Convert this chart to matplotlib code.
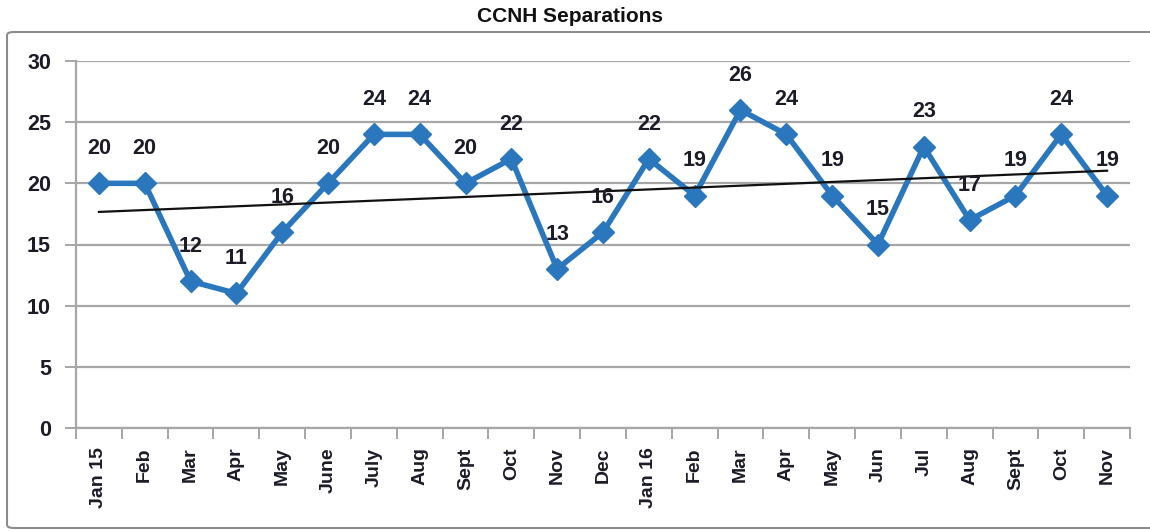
import numpy as np
import matplotlib
matplotlib.use("Agg")
import matplotlib.pyplot as plt
from matplotlib.patches import FancyBboxPatch

months = ["Jan 15", "Feb", "Mar", "Apr", "May", "June", "July", "Aug", "Sept",
          "Oct", "Nov", "Dec", "Jan 16", "Feb", "Mar", "Apr", "May", "Jun",
          "Jul", "Aug", "Sept", "Oct", "Nov"]
separations = [20, 20, 12, 11, 16, 20, 24, 24, 20, 22, 13, 16,
               22, 19, 26, 24, 19, 15, 23, 17, 19, 24, 19]
y_ticks = [0, 5, 10, 15, 20, 25, 30]

plt.rcParams['font.family'] = ['Liberation Sans', 'DejaVu Sans']

x = np.arange(len(separations), dtype=float)
y = np.array(separations, dtype=float)

fig = plt.figure(figsize=(11.5, 5.31), dpi=100)
fig.patch.set_facecolor("white")

# chart frame
frame = FancyBboxPatch((7 / 1150, 3 / 531), 1160 / 1150, 496 / 531,
                       boxstyle="round,pad=0,rounding_size=0.006",
                       transform=fig.transFigure, facecolor="none",
                       edgecolor="#8c8c8c", linewidth=1.5, clip_on=False)
fig.patches.append(frame)

ax = fig.add_axes([76 / 1150, 1 - 428 / 531, (1130 - 76) / 1150, (428 - 61) / 531])
ax.set_xlim(-0.5, len(separations) - 0.5)
ax.set_ylim(0, 30)

ax.set_yticks(y_ticks)
ax.set_yticklabels([str(v) for v in y_ticks], fontsize=15.5, fontweight="bold",
                   color="#1c1c28")
ax.yaxis.grid(True, color="#a6a6a6", linewidth=1.6)
ax.set_axisbelow(True)
ax.tick_params(axis="y", length=8, width=1.4, color="#a6a6a6", pad=10)

ax.set_xticks(x)
ax.set_xticklabels(months, rotation=90, fontsize=14, fontweight="bold",
                   color="#1c1c28")
ax.set_xticks(np.arange(-0.5, len(separations), 1.0), minor=True)
ax.tick_params(axis="x", which="major", length=0, pad=14)
ax.tick_params(axis="x", which="minor", length=8, width=1.4, color="#a6a6a6")

for side in ("top", "right"):
    ax.spines[side].set_visible(False)
for side in ("left", "bottom"):
    ax.spines[side].set_color("#a6a6a6")
    ax.spines[side].set_linewidth(1.6)

# monthly series with diamond markers
blue = "#2b77bd"
ax.plot(x, y, color=blue, linewidth=4, solid_joinstyle="round",
        solid_capstyle="round", marker="D", markersize=11, zorder=3)

# linear trend line
slope, intercept = np.polyfit(x, y, 1)
ax.plot(x, slope * x + intercept, color="#111111", linewidth=1.6, zorder=5)

for xi, yi in zip(x, separations):
    ax.annotate(str(yi), (xi, yi), xytext=(0, 25), textcoords="offset points",
                ha="center", va="center", fontsize=15.5, fontweight="bold",
                color="#1c1c28", zorder=6)

fig.text(570 / 1150, 1 - 17 / 531, "CCNH Separations", ha="center", va="center",
         fontsize=15, fontweight="bold", color="#111111")

fig.savefig("out.png", dpi=100, facecolor="white")
